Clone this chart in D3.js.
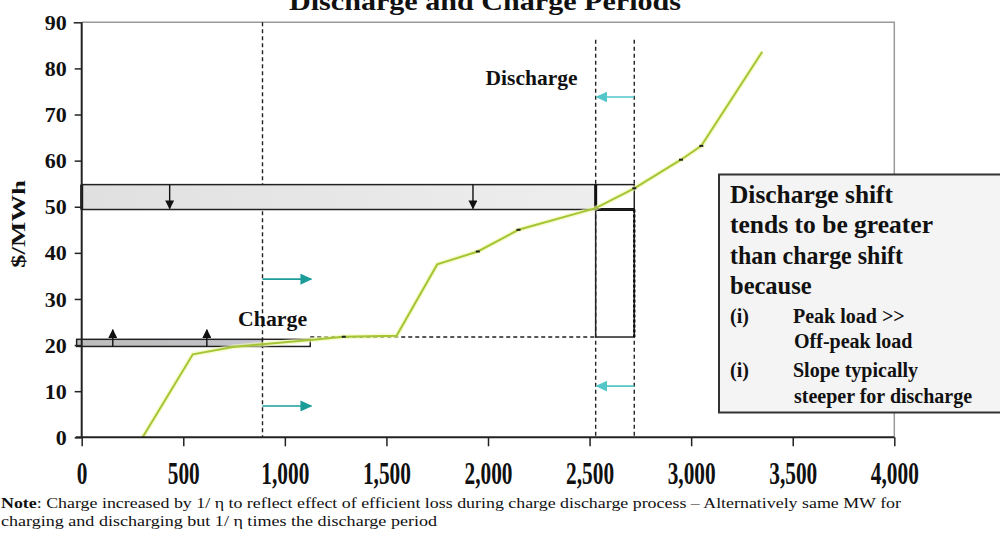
<!DOCTYPE html>
<html>
<head>
<meta charset="utf-8">
<script src="https://cdn.jsdelivr.net/npm/d3@7"></script>
<style>
  html, body { margin: 0; padding: 0; background: #ffffff; }
  svg { display: block; }
  text { font-family: "Liberation Serif", "Times New Roman", serif; }
</style>
</head>
<body>
<svg id="chart" width="1000" height="540"></svg>
<script>
// Supply curve (merit order): cumulative MW vs marginal price ($/MWh)
const supplyMW    = [300, 547, 745, 890, 1125, 1290, 1550, 1750, 1950, 2150, 2530, 2720, 2950, 3050, 3350];
const supplyPrice = [0, 18, 19.6, 20.2, 21.1, 21.8, 22, 37.5, 40.3, 45, 49.7, 54, 60.2, 63.2, 83.6];
// Small step markers sitting on the curve
const markerMW    = [1290, 1950, 2150, 2720, 2950, 3050];

// Axis ticks
const xTicks = [0, 500, 1000, 1500, 2000, 2500, 3000, 3500, 4000];
const yTicks = [0, 10, 20, 30, 40, 50, 60, 70, 80, 90];

// Period boundaries (MW)
const chargeEdge = 890;
const chargeShiftEdge = 1125;
const dischargeEdges = [2530, 2720];

// Price bands ($/MWh)
const chargeBand = [19.7, 21.25];
const dischargeBand = [49.4, 54.8];
const offPeakPrice = 21.75;

// Arrow positions
const downArrowMW = [433, 1926];
const upArrowMW = [153, 616];
const rightArrowPrice = [34.3, 6.8];
const leftArrowPrice = [73.8, 11.1];

const legendLines = ["Discharge shift", "tends to be greater", "than charge shift", "because"];
const reasonItems = [
  ["(i)", "Peak load >>", "Off-peak load"],
  ["(i)", "Slope typically", "steeper  for discharge"]
];

const svg = d3.select("#chart");
const x = d3.scaleLinear().domain([0, 4000]).range([81.7, 894.3]);
const y = d3.scaleLinear().domain([0, 90]).range([437.3, 22.3]);

const defs = svg.append("defs");
const g1 = defs.append("linearGradient").attr("id", "dischargeFill").attr("x1", 0).attr("x2", 1);
g1.append("stop").attr("offset", 0).attr("stop-color", "#e0e0e0");
g1.append("stop").attr("offset", 1).attr("stop-color", "#eeeeee");
const g2 = defs.append("linearGradient").attr("id", "chargeFill").attr("x1", 0).attr("x2", 1);
g2.append("stop").attr("offset", 0).attr("stop-color", "#bdbdbd");
g2.append("stop").attr("offset", 0.7).attr("stop-color", "#c2c2c6");
g2.append("stop").attr("offset", 1).attr("stop-color", "#c6c6d6");

function arrowHead(id, color, w, h) {
  defs.append("marker").attr("id", id)
    .attr("viewBox", "0 0 10 10").attr("refX", 9).attr("refY", 5)
    .attr("markerWidth", w).attr("markerHeight", h).attr("markerUnits", "userSpaceOnUse")
    .attr("orient", "auto")
    .attr("preserveAspectRatio", "none")
    .append("path").attr("d", "M0,0 L10,5 L0,10 Z").attr("fill", color);
}
arrowHead("headTeal", "#1c9c98", 12, 11);
arrowHead("headCyan", "#52c6c8", 12, 11);
arrowHead("headBlack", "#111", 9, 9);

// Title (partly above the page top)
svg.append("text")
  .attr("x", 485).attr("y", 10)
  .attr("text-anchor", "middle")
  .attr("font-size", 26).attr("font-weight", "bold")
  .attr("textLength", 392).attr("lengthAdjust", "spacingAndGlyphs")
  .attr("fill", "#111")
  .text("Discharge and Charge Periods");

// Plot frame: light top/right border
svg.append("path")
  .attr("d", `M${x(0)},${y(90)} H${x(4000)} V${y(0)}`)
  .attr("fill", "none").attr("stroke", "#9a9a9a").attr("stroke-width", 1.5);

// Vertical dashed period lines
svg.append("line")
  .attr("x1", x(chargeEdge)).attr("x2", x(chargeEdge))
  .attr("y1", y(90)).attr("y2", y(0))
  .attr("stroke", "#222").attr("stroke-width", 1.4).attr("stroke-dasharray", "4,3");
dischargeEdges.forEach(m => {
  svg.append("line")
    .attr("x1", x(m)).attr("x2", x(m))
    .attr("y1", y(86.2)).attr("y2", y(0))
    .attr("stroke", "#222").attr("stroke-width", 1.4).attr("stroke-dasharray", "4,3");
});

// Off-peak price dashed line
svg.append("line")
  .attr("x1", x(chargeShiftEdge)).attr("x2", x(dischargeEdges[0]))
  .attr("y1", y(offPeakPrice)).attr("y2", y(offPeakPrice))
  .attr("stroke", "#222").attr("stroke-width", 1.4).attr("stroke-dasharray", "4,3");

// Discharge band (peak price shift)
svg.append("rect")
  .attr("x", x(0)).attr("y", y(dischargeBand[1]))
  .attr("width", x(dischargeEdges[0]) - x(0))
  .attr("height", y(dischargeBand[0]) - y(dischargeBand[1]))
  .attr("fill", "url(#dischargeFill)").attr("stroke", "#222").attr("stroke-width", 1.5);
svg.append("rect")
  .attr("x", x(dischargeEdges[0])).attr("y", y(dischargeBand[1]))
  .attr("width", x(dischargeEdges[1]) - x(dischargeEdges[0]))
  .attr("height", y(dischargeBand[0]) - y(dischargeBand[1]))
  .attr("fill", "#fff").attr("stroke", "#222").attr("stroke-width", 1.5);
svg.append("line")
  .attr("x1", x(dischargeEdges[0])).attr("x2", x(dischargeEdges[1]))
  .attr("y1", y(dischargeBand[0])).attr("y2", y(dischargeBand[0]))
  .attr("stroke", "#111").attr("stroke-width", 3);
svg.append("line")
  .attr("x1", x(dischargeEdges[0])).attr("x2", x(dischargeEdges[0]))
  .attr("y1", y(dischargeBand[1])).attr("y2", y(dischargeBand[0]))
  .attr("stroke", "#111").attr("stroke-width", 3);
svg.append("line")
  .attr("x1", x(0)).attr("x2", x(0))
  .attr("y1", y(dischargeBand[1])).attr("y2", y(dischargeBand[0]))
  .attr("stroke", "#111").attr("stroke-width", 3);

// Tall box between discharge edges down to off-peak price
svg.append("rect")
  .attr("x", x(dischargeEdges[0])).attr("y", y(dischargeBand[0]))
  .attr("width", x(dischargeEdges[1]) - x(dischargeEdges[0]))
  .attr("height", y(offPeakPrice) - y(dischargeBand[0]))
  .attr("fill", "none").attr("stroke", "#222").attr("stroke-width", 1.5);
svg.append("line")
  .attr("x1", x(dischargeEdges[1])).attr("x2", x(dischargeEdges[1]))
  .attr("y1", y(dischargeBand[0])).attr("y2", y(offPeakPrice))
  .attr("stroke", "#111").attr("stroke-width", 2.4).attr("stroke-dasharray", "3,2");

// Charge band (off-peak price shift)
svg.append("rect")
  .attr("x", x(-25)).attr("y", y(chargeBand[1]))
  .attr("width", x(chargeEdge) - x(-25))
  .attr("height", y(chargeBand[0]) - y(chargeBand[1]))
  .attr("fill", "url(#chargeFill)").attr("stroke", "#222").attr("stroke-width", 1.5);
svg.append("rect")
  .attr("x", x(chargeEdge)).attr("y", y(chargeBand[1]))
  .attr("width", x(chargeShiftEdge) - x(chargeEdge))
  .attr("height", y(chargeBand[0]) - y(chargeBand[1]))
  .attr("fill", "#fff").attr("stroke", "#222").attr("stroke-width", 1.5);

// Supply curve
const curve = d3.line().x((d, i) => x(supplyMW[i])).y((d, i) => y(supplyPrice[i]));
svg.append("path")
  .datum(supplyMW)
  .attr("d", curve)
  .attr("fill", "none").attr("stroke", "#f4f7b0").attr("stroke-width", 5).attr("stroke-opacity", 0.6);
svg.append("path")
  .datum(supplyMW)
  .attr("d", curve)
  .attr("fill", "none").attr("stroke", "#a4c634").attr("stroke-width", 2);

// Step markers
const interp = d3.scaleLinear().domain(supplyMW).range(supplyPrice);
svg.selectAll(".mk").data(markerMW).enter().append("line")
  .attr("x1", d => x(d) - 2).attr("x2", d => x(d) + 2)
  .attr("y1", d => y(interp(d))).attr("y2", d => y(interp(d)))
  .attr("stroke", "#222").attr("stroke-width", 2);

// Black arrows: peak price falls, off-peak price rises
downArrowMW.forEach(m => {
  svg.append("line")
    .attr("x1", x(m)).attr("x2", x(m))
    .attr("y1", y(dischargeBand[1])).attr("y2", y(dischargeBand[0]) - 1)
    .attr("stroke", "#111").attr("stroke-width", 1.4).attr("marker-end", "url(#headBlack)");
});
upArrowMW.forEach(m => {
  svg.append("line")
    .attr("x1", x(m)).attr("x2", x(m))
    .attr("y1", y(chargeBand[0])).attr("y2", y(23.3))
    .attr("stroke", "#111").attr("stroke-width", 1.4).attr("marker-end", "url(#headBlack)");
});

// Period shift arrows
rightArrowPrice.forEach(p => {
  svg.append("line")
    .attr("x1", x(chargeEdge)).attr("x2", x(1130))
    .attr("y1", y(p)).attr("y2", y(p))
    .attr("stroke", "#1c9c98").attr("stroke-width", 1.6).attr("marker-end", "url(#headTeal)");
});
leftArrowPrice.forEach(p => {
  svg.append("line")
    .attr("x1", x(dischargeEdges[1])).attr("x2", x(dischargeEdges[0]) + 1)
    .attr("y1", y(p)).attr("y2", y(p))
    .attr("stroke", "#52c6c8").attr("stroke-width", 1.6).attr("marker-end", "url(#headCyan)");
});

// Axes
const yAxis = d3.axisLeft(y).tickValues(yTicks).tickSize(7).tickPadding(8).tickFormat(d3.format("d"));
const gy = svg.append("g").attr("transform", `translate(${x(0)},0)`).call(yAxis);
gy.select(".domain").attr("stroke", "#222").attr("stroke-width", 2).attr("d", `M0,${y(90)}V${y(0)}`);
gy.selectAll(".tick line").attr("stroke", "#222").attr("stroke-width", 1.5);
gy.selectAll(".tick text")
  .attr("font-family", "Liberation Serif, serif").attr("font-size", 22).attr("font-weight", "bold")
  .attr("fill", "#111");
gy.select(".tick:last-of-type line").attr("x1", 0).attr("x2", -8);

const xAxis = d3.axisBottom(x).tickValues(xTicks).tickSize(9).tickPadding(0).tickFormat(d3.format(","));
const gx = svg.append("g").attr("transform", `translate(0,${y(0)})`).call(xAxis);
gx.select(".domain").attr("stroke", "#222").attr("stroke-width", 2).attr("d", `M${x(0) - 6},0H${x(4000)}`);
gx.selectAll(".tick line").attr("stroke", "#222").attr("stroke-width", 1.5);
gx.selectAll(".tick text")
  .attr("font-family", "Liberation Serif, serif").attr("font-size", 22).attr("font-weight", "bold")
  .attr("fill", "#111")
  .attr("dy", null).attr("y", 0)
  .attr("transform", "translate(0,47) scale(0.97,1.42)");

// Y axis title
svg.append("text")
  .attr("transform", `translate(25,${224}) rotate(-90)`)
  .attr("text-anchor", "middle")
  .attr("font-size", 19).attr("font-weight", "bold").attr("fill", "#111")
  .attr("textLength", 88).attr("lengthAdjust", "spacingAndGlyphs")
  .text("$/MWh");

// Period labels
svg.append("text")
  .attr("x", x(1988)).attr("y", 85)
  .attr("font-size", 21).attr("font-weight", "bold").attr("fill", "#111")
  .attr("textLength", 92).attr("lengthAdjust", "spacingAndGlyphs")
  .text("Discharge");
svg.append("text")
  .attr("x", x(770)).attr("y", 326)
  .attr("font-size", 21).attr("font-weight", "bold").attr("fill", "#111")
  .attr("textLength", 69).attr("lengthAdjust", "spacingAndGlyphs")
  .text("Charge");

// Explanation box
const box = svg.append("g");
box.append("rect")
  .attr("x", 719).attr("y", 174.5).attr("width", 300).attr("height", 238)
  .attr("fill", "#f4f4f4").attr("stroke", "#333").attr("stroke-width", 2);
const lineY = [203, 233, 264, 294];
const lineW = [163, 203, 173, 0];
legendLines.forEach((t, i) => {
  const tx = box.append("text")
    .attr("x", 730).attr("y", lineY[i])
    .attr("font-size", 24.5).attr("font-weight", "bold").attr("fill", "#111")
    .text(t);
  if (lineW[i]) tx.attr("textLength", lineW[i]).attr("lengthAdjust", "spacingAndGlyphs");
});
const itemY = [[323, 348], [377, 403]];
reasonItems.forEach((it, i) => {
  box.append("text").attr("x", 730).attr("y", itemY[i][0])
    .attr("font-size", 20).attr("font-weight", "bold").attr("fill", "#111").text(it[0]);
  box.append("text").attr("x", 793).attr("y", itemY[i][0])
    .attr("font-size", 20).attr("font-weight", "bold").attr("fill", "#111").text(it[1]);
  box.append("text").attr("x", 794).attr("y", itemY[i][1])
    .attr("font-size", 20).attr("font-weight", "bold").attr("fill", "#111").text(it[2]);
});

// Footnote
const note1 = svg.append("text")
  .attr("x", 1).attr("y", 508)
  .attr("font-size", 14).attr("fill", "#111")
  .attr("textLength", 900).attr("lengthAdjust", "spacingAndGlyphs");
note1.append("tspan").attr("font-weight", "bold").text("Note");
note1.append("tspan").text(": Charge increased by 1/ \u03b7 to reflect effect of efficient loss during charge discharge process \u2013 Alternatively same MW for");
svg.append("text")
  .attr("x", 1).attr("y", 526)
  .attr("font-size", 14).attr("fill", "#111")
  .attr("textLength", 436).attr("lengthAdjust", "spacingAndGlyphs")
  .text("charging and discharging but 1/ \u03b7 times the discharge period");
</script>
</body>
</html>
